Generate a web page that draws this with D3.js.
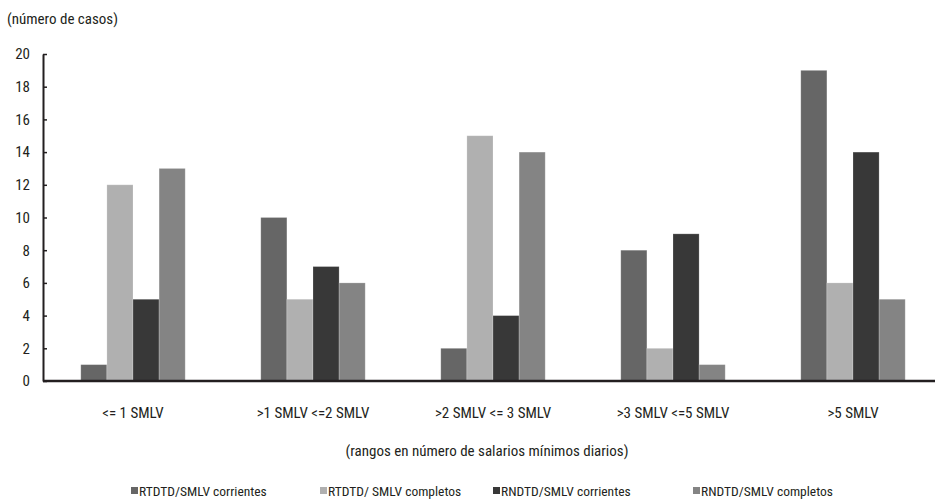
<!DOCTYPE html>
<html><head><meta charset="utf-8">
<script src="https://cdn.jsdelivr.net/npm/d3@7"></script>
<style>
body{margin:0;background:#fff;}
text{font-family:"Liberation Sans Narrow","Roboto Condensed","DejaVu Sans Condensed",sans-serif;font-stretch:condensed;fill:#231f20;}
</style></head>
<body><svg id="c" width="935" height="500"></svg>
<script>
const categories = ["<= 1 SMLV", ">1 SMLV <=2 SMLV", ">2 SMLV <= 3 SMLV", ">3 SMLV <=5 SMLV", ">5 SMLV"];
const seriesNames = ["RTDTD/SMLV corrientes", "RTDTD/ SMLV completos", "RNDTD/SMLV corrientes", "RNDTD/SMLV completos"];
const rtdtdCorrientes = [1, 10, 2, 8, 19];
const rtdtdCompletos = [12, 5, 15, 2, 6];
const rndtdCorrientes = [5, 7, 4, 9, 14];
const rndtdCompletos = [13, 6, 14, 1, 5];
const yTicks = [0, 2, 4, 6, 8, 10, 12, 14, 16, 18, 20];
const colors = ["#666666", "#b0b0b0", "#383838", "#848484"];
const seriesValues = [rtdtdCorrientes, rtdtdCompletos, rndtdCorrientes, rndtdCompletos];

(function(){
const svg = d3.select("#c");
const FS = 15;
const mLeft = 43, mRight = 943, mTop = 54, mBottom = 381;
const x0 = d3.scaleBand().domain(categories).range([mLeft, mRight]).paddingInner(0.42).paddingOuter(0.21);
const x1 = d3.scaleBand().domain(d3.range(seriesNames.length)).range([0, x0.bandwidth()]);
const y = d3.scaleLinear().domain([0, 20]).range([mBottom, mTop]);

categories.forEach((c, ci) => {
  const g = svg.append("g").attr("transform", `translate(${x0(c)},0)`);
  seriesValues.forEach((vals, si) => {
    g.append("rect")
      .attr("x", x1(si)).attr("width", x1.bandwidth())
      .attr("y", y(vals[ci])).attr("height", y(0) - y(vals[ci]))
      .attr("fill", colors[si])
      .attr("stroke", "#ffffff").attr("stroke-opacity", 0.25).attr("stroke-width", 0.8);
  });
});

const ya = svg.append("g").attr("transform", `translate(${mLeft},0)`)
  .call(d3.axisLeft(y).tickValues(yTicks).tickFormat(d3.format("d")).tickSizeInner(-4).tickSizeOuter(0).tickPadding(13));
ya.select(".domain").attr("stroke", "#231f20").attr("stroke-width", 2);
ya.selectAll(".tick line").attr("stroke", "#231f20").attr("stroke-width", 1.5);
ya.selectAll(".tick text").attr("font-size", FS).attr("fill", "#231f20")
  .style("font-family", '"Liberation Sans Narrow","Roboto Condensed",sans-serif');

const xa = svg.append("g").attr("transform", `translate(0,${mBottom})`)
  .call(d3.axisBottom(x0).tickSize(0).tickSizeOuter(0).tickPadding(26));
xa.select(".domain").attr("stroke", "#231f20").attr("stroke-width", 2.5).attr("d", `M${mLeft},0H935`);
xa.selectAll(".tick text").attr("font-size", FS).attr("fill", "#231f20")
  .style("font-family", '"Liberation Sans Narrow","Roboto Condensed",sans-serif');

svg.append("text").attr("x", 7).attr("y", 24).attr("font-size", FS).text("(número de casos)");
svg.append("text").attr("x", 487).attr("y", 456).attr("text-anchor", "middle").attr("font-size", FS)
  .text("(rangos en número de salarios mínimos diarios)");

const legX = [131, 320, 493, 693];
seriesNames.forEach((n, i) => {
  const g = svg.append("g").attr("transform", `translate(${legX[i]},496)`);
  g.append("rect").attr("x", 0).attr("y", -9).attr("width", 7).attr("height", 7).attr("fill", colors[i]);
  g.append("text").attr("x", 8).attr("y", 0).attr("font-size", 13.5).text(n);
});
})();
</script></body></html>
